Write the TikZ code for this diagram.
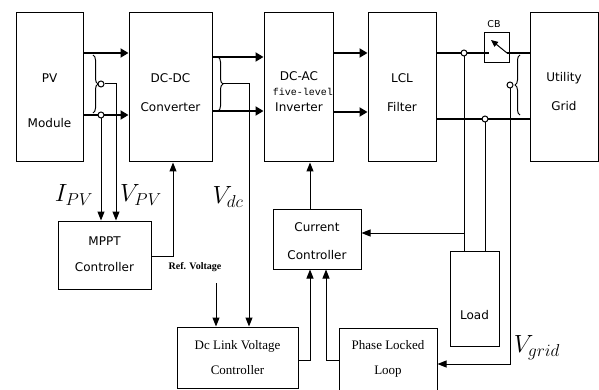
\documentclass[tikz,border=0pt]{standalone}
\usepackage{fontspec}
\setmainfont{Liberation Serif}
\newfontfamily\boxfont{DejaVu Sans}
\newfontfamily\lvlfont{Liberation Mono}
\usetikzlibrary{arrows.meta,decorations.pathreplacing}
\tikzset{
  blk/.style={draw, line width=1pt, inner sep=0pt},
  lbl/.style={font=\boxfont\fontsize{12}{#1}\selectfont, align=center},
  lbl/.default=29,
  serlbl/.style={font=\fontsize{13}{25}\selectfont, align=center},
  wire/.style={line width=1.8pt},
  power/.style={wire, -{Triangle[length=8pt,width=9pt]}},
  thinwire/.style={line width=1pt},
  sig/.style={thinwire, -{Triangle[length=9pt,width=7pt]}},
  tap/.style={circle, draw, line width=1pt, fill=white, inner sep=0pt, minimum size=6pt},
  brc/.style={decorate, decoration={brace, amplitude=5pt}, line width=1pt},
  meas/.style={font=\fontsize{24}{24}\selectfont}
}
\begin{document}
\begin{tikzpicture}[x=1pt,y=-1pt]
\path[use as bounding box] (0,0) rectangle (599,390);
\clip (0,0) rectangle (599,390);
% main chain
\node[blk, minimum width=67pt, minimum height=149pt] (pv) at (49.5,87.5) {};
\node[blk, minimum width=83pt, minimum height=149pt] (dcdc) at (170.5,87.5) {};
\node[blk, minimum width=69pt, minimum height=149pt] (dcac) at (298.5,87.5) {};
\node[blk, minimum width=68pt, minimum height=149pt] (lcl) at (402,87.5) {};
\node[blk, minimum width=68pt, minimum height=149pt] (grid) at (564,87.5) {};
% controllers
\node[blk, minimum width=93pt, minimum height=68pt] (mppt) at (104.5,255) {};
\node[blk, minimum width=88pt, minimum height=60pt] (cc) at (317,239) {};
\node[blk, minimum width=121pt, minimum height=61pt] (dcl) at (237.5,357.5) {};
\node[blk, minimum width=98pt, minimum height=68pt] (pll) at (388,362) {};
\node[blk, minimum width=49pt, minimum height=95pt] (load) at (474.5,298.5) {};
\node[blk, minimum width=25pt, minimum height=30pt] (cb) at (496.5,48) {};

% texts
\node[lbl=45] (pvtxt) at (49.5,100.5) {PV\\Module};
\node[lbl] (dcdctxt) at (170.5,92.5) {DC-DC\\Converter};
\node[lbl=15.5] (dcactxt) at (299,91.5) {DC-AC\\\hspace*{8pt}{\lvlfont\fontsize{10}{12}\selectfont five-level}\\Inverter};
\node[lbl] (lcltxt) at (402,92.5) {LCL\\Filter};
\node[lbl] (gridtxt) at (564,91.5) {Utility\\Grid};
\node[lbl=26] (mppttxt) at (104.5,254) {MPPT\\Controller};
\node[lbl=28] (cctxt) at (317,241) {Current\\Controller};
\node[lbl] (loadtxt) at (474.5,315) {Load};
\node[serlbl] (dcltxt) at (237.5,357.5) {Dc Link Voltage\\Controller};
\node[serlbl] (plltxt) at (388,358.5) {Phase Locked\\Loop};
\node[font=\boxfont\fontsize{9.5}{11}\selectfont] (cbtxt) at (494,24) {CB};
\node[font=\fontsize{10}{12}\selectfont\bfseries] (reftxt) at (195,267) {Ref. Voltage};
\node[meas] (ipv) at (74,195) {$I_{PV}$};
\node[meas] (vpv) at (141,195) {$V_{PV}$};
\node[meas] (vdc) at (228,197) {$V_{dc}$};
\node[meas] (vgrid) at (537,348) {$V_{grid}$};

% power lines
\draw[power] (pv.east |- 0,53) -- (dcdc.west |- 0,53);
\draw[power] (pv.east |- 0,115) -- (dcdc.west |- 0,115);
\draw[power] (dcdc.east |- 0,57) -- (dcac.west |- 0,57);
\draw[power] (dcdc.east |- 0,111) -- (dcac.west |- 0,111);
\draw[power] (dcac.east |- 0,53) -- (lcl.west |- 0,53);
\draw[power] (dcac.east |- 0,112) -- (lcl.west |- 0,112);
\coordinate (sw1) at (489,53);
\coordinate (sw2) at (507,53);
\coordinate (sw3) at (491,40);
\draw[wire] (lcl.east |- 0,53) -- (sw1);
\draw[wire] (sw2) -- (grid.west |- 0,53);
\draw[thinwire, -{Triangle[length=7pt,width=6pt]}] (sw2) -- (sw3);
\draw[wire] (lcl.east |- 0,119) -- (grid.west |- 0,119);

% sensing braces
\draw[brc] (93,55) -- (93,113);
\draw[brc] (218,57) -- (218,111);
\draw[brc] (520,115) -- (520,55);
\coordinate (vdctap) at (223,84);

% taps
\node[tap] (t1) at (101,84) {};
\node[tap] (t2) at (101,115) {};
\node[tap] (t4) at (464,53) {};
\node[tap] (t5) at (485,119) {};
\node[tap] (t6) at (510,85) {};

% signals
\draw[sig] (t2.south) -- (t2.south |- mppt.north);
\draw[sig] (t1.east) -| (mppt.north -| 116,0);
\draw[sig] (mppt.east |- 0,256) -| (dcdc.south -| 173,0);
\draw[sig] (vdctap) -| (dcl.north -| 249,0);
\coordinate (refv) at (216,283);
\draw[sig] (refv) -- (refv |- dcl.north);
\draw[sig] (dcl.east |- 0,360) -| (cc.south -| 310,0);
\draw[sig] (pll.west |- 0,360) -| (cc.south -| 326,0);
\draw[sig] (cc.north -| 310,0) -- (dcac.south -| 310,0);
\draw[thinwire] (t4.south) -- (t4.south |- load.north);
\draw[sig] (t4 |- 0,233) -- (cc.east |- 0,233);
\draw[thinwire] (t5.south) -- (t5.south |- load.north);
\draw[sig] (t6.south) |- (pll.east |- 0,364);
\end{tikzpicture}
\end{document}
